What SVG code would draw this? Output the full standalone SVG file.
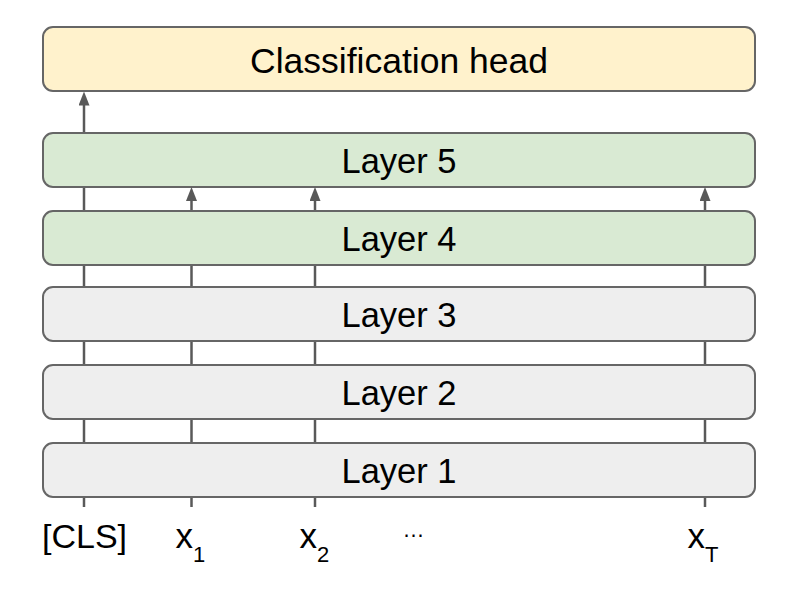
<svg xmlns="http://www.w3.org/2000/svg" width="789" height="592" viewBox="0 0 789 592">
  <style>
    .box { stroke: #666666; stroke-width: 2; }
    .head { fill: #fff2cc; }
    .green { fill: #d9ead3; }
    .gray { fill: #eeeeee; }
    .lbl { font-family: "Liberation Sans", Arial, sans-serif; fill: #000000; }
    .big { font-size: 34.5px; text-anchor: middle; }
    .conn { stroke: #595959; stroke-width: 2.5; fill: none; }
  </style>
  <defs>
    <marker id="arrow" viewBox="0 0 14 11" refX="4" refY="5.5" markerWidth="14" markerHeight="11" orient="auto" markerUnits="userSpaceOnUse">
      <path d="M0,0 L14,5.5 L0,11 z" fill="#595959"/>
    </marker>
  </defs>

  <g id="head">
    <rect class="box head" x="43" y="27" width="712" height="64" rx="10"/>
    <text class="lbl big" x="399" y="72.5" style="font-size:35.5px">Classification head</text>
  </g>
  <g id="layer5">
    <rect class="box green" x="43" y="133" width="712" height="54" rx="10"/>
    <text class="lbl big" x="399" y="172.5">Layer 5</text>
  </g>
  <g id="layer4">
    <rect class="box green" x="43" y="211" width="712" height="54" rx="10"/>
    <text class="lbl big" x="399" y="250.5">Layer 4</text>
  </g>
  <g id="layer3">
    <rect class="box gray" x="43" y="287" width="712" height="54" rx="10"/>
    <text class="lbl big" x="399" y="326.7">Layer 3</text>
  </g>
  <g id="layer2">
    <rect class="box gray" x="43" y="365" width="712" height="54" rx="10"/>
    <text class="lbl big" x="399" y="404.7">Layer 2</text>
  </g>
  <g id="layer1">
    <rect class="box gray" x="43" y="443" width="712" height="54" rx="10"/>
    <text class="lbl big" x="399" y="482.5">Layer 1</text>
  </g>

  <g id="connectors">
    <line class="conn" x1="84" y1="498" x2="84" y2="507"/>
    <line class="conn" x1="191.5" y1="498" x2="191.5" y2="507"/>
    <line class="conn" x1="315" y1="498" x2="315" y2="507"/>
    <line class="conn" x1="705" y1="498" x2="705" y2="507"/>
    <line class="conn" x1="84" y1="420" x2="84" y2="442"/>
    <line class="conn" x1="191.5" y1="420" x2="191.5" y2="442"/>
    <line class="conn" x1="315" y1="420" x2="315" y2="442"/>
    <line class="conn" x1="705" y1="420" x2="705" y2="442"/>
    <line class="conn" x1="84" y1="342" x2="84" y2="364"/>
    <line class="conn" x1="191.5" y1="342" x2="191.5" y2="364"/>
    <line class="conn" x1="315" y1="342" x2="315" y2="364"/>
    <line class="conn" x1="705" y1="342" x2="705" y2="364"/>
    <line class="conn" x1="84" y1="266" x2="84" y2="286"/>
    <line class="conn" x1="191.5" y1="266" x2="191.5" y2="286"/>
    <line class="conn" x1="315" y1="266" x2="315" y2="286"/>
    <line class="conn" x1="705" y1="266" x2="705" y2="286"/>
    <line class="conn" x1="84" y1="210" x2="84" y2="188"/>
    <line class="conn" x1="191.5" y1="210" x2="191.5" y2="197" marker-end="url(#arrow)"/>
    <line class="conn" x1="315" y1="210" x2="315" y2="197" marker-end="url(#arrow)"/>
    <line class="conn" x1="705" y1="210" x2="705" y2="197" marker-end="url(#arrow)"/>
    <line class="conn" x1="84" y1="132" x2="84" y2="101.5" marker-end="url(#arrow)"/>
  </g>

  <g id="inputs">
    <text class="lbl" x="84.5" y="548" style="font-size:34px" text-anchor="middle">[CLS]</text>
    <text class="lbl" x="175.5" y="548" style="font-size:35px">x</text>
    <text class="lbl" x="193" y="561.5" style="font-size:22px">1</text>
    <text class="lbl" x="299.5" y="548" style="font-size:35px">x</text>
    <text class="lbl" x="317" y="561.5" style="font-size:22px">2</text>
    <text class="lbl" x="402.5" y="537" style="font-size:22px">…</text>
    <text class="lbl" x="687.5" y="548" style="font-size:35px">x</text>
    <text class="lbl" x="705" y="561.5" style="font-size:22px">T</text>
  </g>
</svg>
